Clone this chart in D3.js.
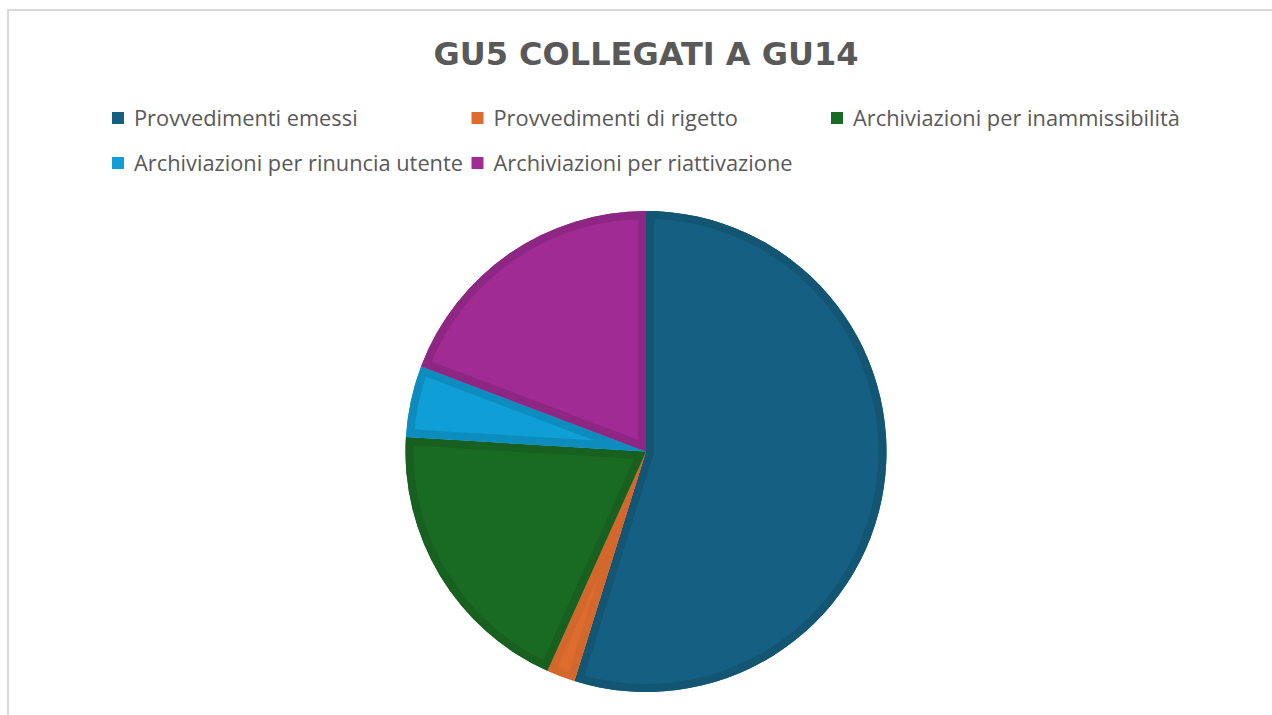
<!DOCTYPE html>
<html><head><meta charset="utf-8">
<script src="https://cdn.jsdelivr.net/npm/d3@7"></script>
<style>body{margin:0;background:#fff;}svg{display:block;}</style>
</head><body>
<svg id="chart" width="1272" height="715"></svg>
<script>
const title = "GU5 COLLEGATI A GU14";
const categories = ["Provvedimenti emessi","Provvedimenti di rigetto","Archiviazioni per inammissibilità","Archiviazioni per rinuncia utente","Archiviazioni per riattivazione"];
const values = [57, 2, 20, 5, 20];
const colors = ["#156082","#DC6D2E","#196B24","#0F9ED5","#A02B93"];
const borderColors = ["#125673","#D4682C","#17601F","#0D8DBE","#8E2683"];

const svg = d3.select("#chart");
// frame
svg.append("rect").attr("x",8).attr("y",10).attr("width",1280).attr("height",720)
  .attr("fill","none").attr("stroke","#d9d9d9").attr("stroke-width",2);

svg.append("text").attr("x",646).attr("y",65).attr("text-anchor","middle")
  .attr("font-family","DejaVu Sans, sans-serif").attr("font-weight","bold")
  .attr("font-size",32).attr("fill","#595959").text(title);

// legend
const colW = 359.5;
const legend = svg.append("g").attr("transform","translate(112,0)");
const items = legend.selectAll("g.item").data(categories).enter().append("g")
  .attr("transform",(d,i)=>`translate(${(i<3?i:i-3)*colW},${i<3?112:157})`);
items.append("rect").attr("width",12).attr("height",12).attr("fill",(d,i)=>colors[i]);
items.append("text").attr("x",22).attr("y",13.5).attr("font-family","Open Sans, sans-serif")
  .attr("font-size",21.8).attr("fill","#595959").text(d=>d);

// pie
const cx=646, cy=451.5, r=240.5;
const pie = d3.pie().sort(null).value(d=>d);
const arc = d3.arc().innerRadius(0).outerRadius(r);
const arcs = pie(values);
const g = svg.append("g").attr("transform",`translate(${cx},${cy})`);
const defs = svg.append("defs");
arcs.forEach((a,i)=>{
  defs.append("clipPath").attr("id","clip"+i).append("path").attr("d",arc(a));
});
const slices = g.selectAll("g.slice").data(arcs).enter().append("g");
slices.append("path").attr("d",arc).attr("fill",(d,i)=>colors[i]);
slices.append("path").attr("d",arc).attr("fill","none")
  .attr("stroke",(d,i)=>borderColors[i]).attr("stroke-width",16)
  .attr("stroke-linejoin","miter")
  .attr("clip-path",(d,i)=>`url(#clip${i})`);
</script>
</body></html>
